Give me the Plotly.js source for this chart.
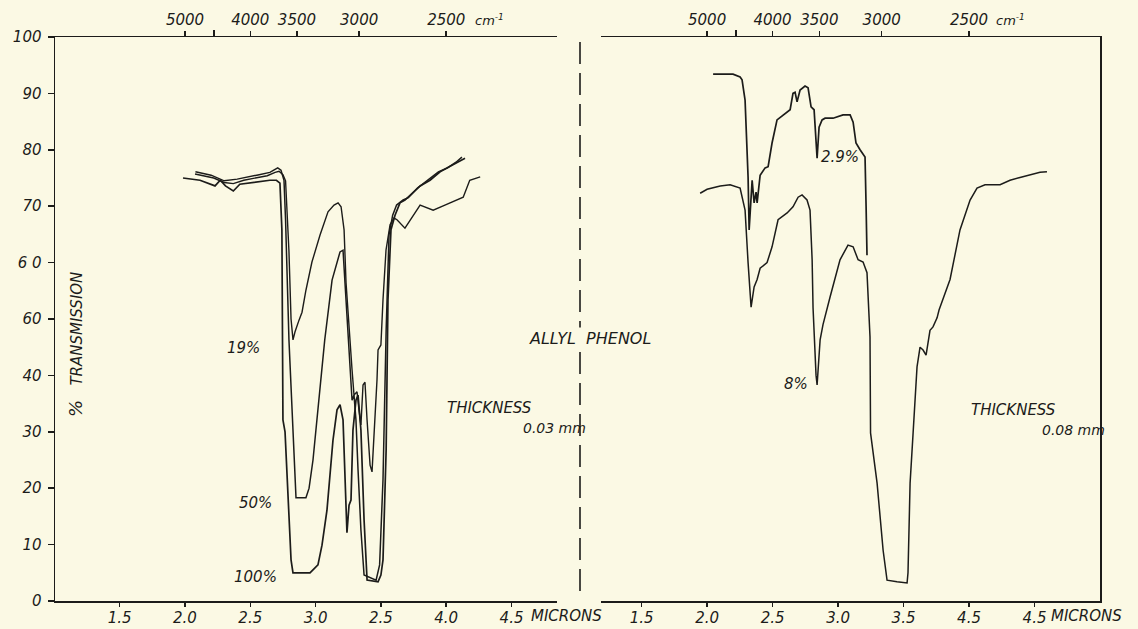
<!DOCTYPE html>
<html>
<head>
<meta charset="utf-8">
<script src="https://cdn.plot.ly/plotly-3.0.1.min.js"></script>
<style>
html,body{margin:0;padding:0;background:#fbf9e4;}
#chart{width:1138px;height:629px;}
</style>
</head>
<body>
<div id="chart"></div>
<script>
// ---------- DATA (wavelength in microns, % transmission) ----------
// Left panel, thickness 0.03 mm
const mu100 = [1.985,2.115,2.23,2.27,2.31,2.37,2.42,2.54,2.65,2.70,2.727,2.742,2.75,2.766,2.789,2.812,2.827,2.957,3.018,3.049,3.087,3.133,3.164,3.187,3.21,3.225,3.24,3.256,3.271,3.286,3.309,3.325,3.347,3.371,3.394,3.478,3.50,3.516,3.54,3.554,3.577,3.608,3.646,3.684,3.80,3.876,3.953,4.03,4.121,4.144];
const t100  = [75.0,74.6,73.6,74.6,73.6,72.7,73.9,74.3,74.6,74.6,74.1,65.8,32.1,30.0,17.9,7.3,5.0,5.0,6.4,9.9,16.1,28.5,33.9,34.8,32.1,21.5,12.1,17.0,17.9,30.3,35.6,36.5,30.3,14.4,3.7,3.4,4.6,7.3,26.8,53.4,65.8,68.4,70.6,71.1,73.6,74.6,76.1,77.1,78.2,78.5];

const mu50 = [2.08,2.2,2.3,2.4,2.55,2.65,2.71,2.735,2.758,2.77,2.796,2.827,2.85,2.926,2.95,2.98,3.018,3.07,3.126,3.187,3.21,3.233,3.256,3.279,3.294,3.309,3.325,3.347,3.371,3.463,3.49,3.516,3.54,3.562,3.59,3.62,3.67,3.71,3.78,3.86,3.94,4.01,4.075,4.12];
const t50  = [76.1,75.5,74.5,74.8,75.5,76.0,76.8,76.4,74.6,67.6,46.3,28.5,18.3,18.3,20.0,25.0,33.9,46.3,56.9,61.9,62.2,53.4,42.7,35.6,36.5,32.1,23.2,12.6,4.6,3.7,6.4,21.5,48.0,64.9,68.4,70.2,71.1,71.5,73.2,74.6,76.1,76.8,77.8,78.7];

const mu19 = [2.077,2.15,2.22,2.30,2.37,2.45,2.55,2.63,2.69,2.72,2.75,2.77,2.796,2.812,2.827,2.842,2.873,2.896,2.926,2.972,3.034,3.095,3.141,3.172,3.195,3.218,3.233,3.256,3.279,3.294,3.317,3.332,3.347,3.363,3.378,3.394,3.417,3.432,3.447,3.47,3.478,3.50,3.516,3.539,3.57,3.60,3.623,3.684,3.80,3.90,3.99,4.13,4.18,4.26];
const t19  = [75.7,75.3,75.0,74.2,74.0,74.6,75.0,75.4,76.0,76.2,75.6,74.5,62.0,50.0,46.3,47.7,49.8,51.2,55.1,60.1,64.9,69.0,70.2,70.6,69.9,65.8,56.4,48.0,41.0,36.5,37.1,33.9,31.2,38.3,38.8,32.1,24.1,22.9,28.5,39.2,44.5,45.4,53.4,62.2,66.7,67.9,67.6,66.1,70.2,69.3,70.2,71.6,74.6,75.2];

// Right panel, thickness 0.08 mm
const mu29 = [2.046,2.12,2.198,2.252,2.267,2.29,2.305,2.313,2.321,2.336,2.344,2.359,2.374,2.382,2.405,2.443,2.466,2.496,2.534,2.634,2.656,2.672,2.687,2.71,2.748,2.771,2.794,2.817,2.84,2.855,2.878,2.901,2.962,3.038,3.092,3.115,3.137,3.168,3.206,3.214,3.221];
const t29  = [93.4,93.4,93.4,92.9,92.4,88.8,81.2,75.2,65.8,72.0,74.6,70.6,72.5,70.6,75.5,76.8,77.0,81.2,85.3,87.1,90.0,90.2,88.5,90.6,91.3,91.0,87.6,87.1,78.5,84.0,85.3,85.6,85.6,86.2,86.2,84.9,81.2,80.0,78.7,70.0,61.3];

const mu8 = [1.947,2.0,2.1,2.176,2.252,2.29,2.313,2.336,2.359,2.382,2.405,2.458,2.496,2.542,2.611,2.656,2.695,2.725,2.763,2.786,2.802,2.809,2.832,2.84,2.863,2.885,2.939,3.015,3.076,3.115,3.153,3.191,3.221,3.244,3.248,3.298,3.344,3.374,3.45,3.527,3.534,3.55,3.573,3.603,3.626,3.649,3.672,3.702,3.725,3.756,3.771,3.855,3.931,4.008,4.061,4.122,4.237,4.313,4.389,4.466,4.542,4.595];
const t8  = [72.3,73.0,73.6,73.8,73.2,69.3,60.0,52.1,55.7,57.0,59.0,60.0,62.8,67.6,68.8,69.9,71.6,72.0,71.1,69.3,60.5,52.0,40.0,38.3,46.3,49.0,53.9,60.5,63.1,62.8,60.5,60.1,58.2,46.8,29.8,20.9,9.0,3.7,3.4,3.2,5.0,20.9,29.8,41.5,45.0,44.5,43.6,48.0,48.6,50.2,51.6,57.0,65.8,71.1,73.2,73.8,73.8,74.6,75.1,75.5,76.0,76.1];

// Tick labels (as printed on the original, including its misprints)
const yTickVals = [0,10,20,30,40,50,60,70,80,90,100];
const yTickText = ["0","10","20","30","40","60","6 0","70","80","90","100"];
const muTickVals = [1.5,2.0,2.5,3.0,3.5,4.0,4.5];
const muTickTextLeft  = ["1.5","2.0","2.5","3.0","2.5","4.0","4.5"];
const muTickTextRight = ["1.5","2.0","2.5","3.0","3.5","4.5","4.5"];
const waveNumbers = [5000,4000,3500,3000,2500];
const waveLabels  = ["5000","4000","3500","3000","2500"];
const waveMinor   = [4500];

// ---------- LAYOUT HELPERS ----------
const W = 1138, H = 629;
const px = x => x / W;
const py = y => 1 - y / H;
const ink = '#1c1c1a';
const bg = '#fbf9e4';
const FONT = 'DejaVu Sans, sans-serif';
const toMu = arr => arr.map(w => 1e4 / w);

const traces = [
  {x: mu100, y: t100, xaxis: 'x', yaxis: 'y', mode: 'lines', line: {color: ink, width: 1.7}, name: '100%'},
  {x: mu50,  y: t50,  xaxis: 'x', yaxis: 'y', mode: 'lines', line: {color: ink, width: 1.5}, name: '50%'},
  {x: mu19,  y: t19,  xaxis: 'x', yaxis: 'y', mode: 'lines', line: {color: ink, width: 1.4}, name: '19%'},
  {x: mu29,  y: t29,  xaxis: 'x2', yaxis: 'y', mode: 'lines', line: {color: ink, width: 1.7}, name: '2.9%'},
  {x: mu8,   y: t8,   xaxis: 'x2', yaxis: 'y', mode: 'lines', line: {color: ink, width: 1.5}, name: '8%'},
  {x: [], y: [], xaxis: 'x3', yaxis: 'y', mode: 'lines', showlegend: false},
  {x: [], y: [], xaxis: 'x4', yaxis: 'y', mode: 'lines', showlegend: false},
  {x: [], y: [], xaxis: 'x2', yaxis: 'y2', mode: 'lines', showlegend: false}
];

const italic = (size) => ({family: FONT, size: size, color: ink, style: 'italic'});

const bottomAxis = (domain, range, text) => ({
  domain: domain, range: range, anchor: 'y', side: 'bottom',
  showline: true, linecolor: ink, linewidth: 1.5,
  ticks: 'outside', ticklen: 4, tickwidth: 1.5, tickcolor: ink,
  tickvals: muTickVals, ticktext: text, tickfont: italic(15),
  ticklabelstandoff: -2,
  showgrid: false, zeroline: false, fixedrange: true
});
const topAxis = (over, range) => ({
  overlaying: over, range: range, anchor: 'y', side: 'top',
  showline: true, linecolor: ink, linewidth: 1.5,
  ticks: 'outside', ticklen: 5, tickwidth: 1.5, tickcolor: ink,
  tickvals: toMu(waveNumbers), ticktext: waveLabels, tickfont: italic(15),
  minor: {tickvals: toMu(waveMinor), ticks: 'outside', ticklen: 6, tickwidth: 2.5, tickcolor: ink, showgrid: false},
  showgrid: false, zeroline: false
});

const leftRange = [1.005, 4.848];
const rightRange = [1.19, 5.0];

const ann = (x, y, text, size, extra) => Object.assign({
  xref: 'paper', yref: 'paper', x: px(x), y: py(y), text: text,
  showarrow: false, font: italic(size), xanchor: 'center', yanchor: 'middle'
}, extra || {});

const layout = {
  width: W, height: H,
  margin: {l: 0, r: 0, t: 0, b: 0},
  paper_bgcolor: bg, plot_bgcolor: 'rgba(0,0,0,0)',
  showlegend: false,
  xaxis: bottomAxis([px(55), px(557)], leftRange, muTickTextLeft),
  xaxis2: bottomAxis([px(601), px(1100)], rightRange, muTickTextRight),
  xaxis3: topAxis('x', leftRange),
  xaxis4: topAxis('x2', rightRange),
  yaxis: {
    domain: [py(601), py(37)], range: [0, 100], anchor: 'x',
    showline: true, linecolor: ink, linewidth: 1.5,
    ticks: 'outside', ticklen: 6, tickwidth: 1.5, tickcolor: ink,
    tickvals: yTickVals, ticktext: yTickText, tickfont: italic(15),
    ticklabelstandoff: 3,
    showgrid: false, zeroline: false
  },
  yaxis2: {
    overlaying: 'y', anchor: 'x2', side: 'right', range: [0, 100],
    showline: true, linecolor: ink, linewidth: 1.5,
    ticks: '', showticklabels: false, showgrid: false, zeroline: false
  },
  shapes: [
    {type: 'line', xref: 'paper', yref: 'paper', x0: px(580), x1: px(580), y0: py(42), y1: py(600),
     line: {color: ink, width: 1.6, dash: '22px,9px'}}
  ],
  annotations: [
    ann(75, 345, '<span style="font-size:18px">%</span>   TRANSMISSION', 15, {textangle: -90}),
    ann(489, 20, 'cm<sup>-1</sup>', 13),
    ann(1010, 20, 'cm<sup>-1</sup>', 13),
    ann(529, 616, 'MICRONS', 15, {xanchor: 'left'}),
    ann(1049, 616, 'MICRONS', 15, {xanchor: 'left'}),
    ann(590, 338, 'ALLYL  PHENOL', 16, {bgcolor: bg}),
    ann(489, 408, 'THICKNESS', 15),
    ann(554, 428, '0.03 mm', 14),
    ann(1013, 410, 'THICKNESS', 15),
    ann(1073, 430, '0.08 mm', 14),
    ann(243, 348, '19%', 15),
    ann(256, 503, '50%', 15),
    ann(256, 577, '100%', 15),
    ann(840, 157, '2.9%', 15),
    ann(796, 384, '8%', 15)
  ]
};

Plotly.newPlot('chart', traces, layout, {displayModeBar: false, staticPlot: true});
</script>
</body>
</html>
